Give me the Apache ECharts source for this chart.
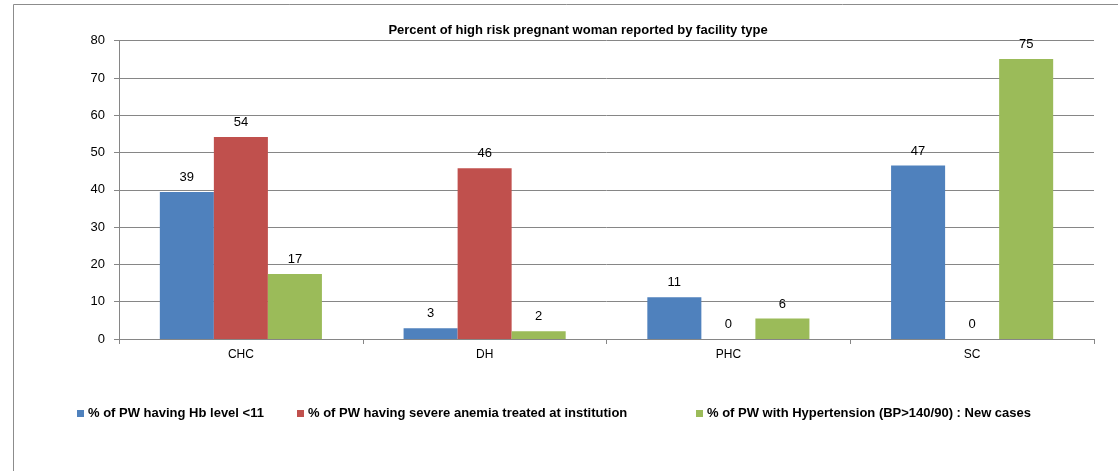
<!DOCTYPE html>
<html>
<head>
<meta charset="utf-8">
<script src="https://cdn.jsdelivr.net/npm/echarts@6/dist/echarts.min.js"></script>
<style>
  html, body { margin: 0; padding: 0; background: #fff; }
  #chart { width: 1118px; height: 471px; }
</style>
</head>
<body>
<div id="chart"></div>
<script>
// facility types
var categories = ['CHC', 'DH', 'PHC', 'SC'];
// series names
var seriesNames = [
  '% of PW having Hb level <11',
  '% of PW having severe anemia treated at institution',
  '% of PW with Hypertension (BP>140/90) : New cases'
];
// values
var hbLow = [39.4, 2.9, 11.2, 46.5];
var anemiaTreated = [54.2, 45.8, 0, 0];
var hypertension = [17.4, 2.1, 5.5, 75.1];
var yTicks = [0, 10, 20, 30, 40, 50, 60, 70, 80];

var colors = ['#4F81BD', '#C0504D', '#9BBB59'];
var font = 'Liberation Sans';
// legend entries sit where the original put them
var legendLeft = [72, 292, 691];

var myChart = echarts.init(document.getElementById('chart'), null, { renderer: 'canvas' });

function makeSeries(name, data, color) {
  return {
    name: name,
    type: 'bar',
    data: data,
    barGap: '0%',
    barCategoryGap: '33.5%',
    itemStyle: { color: color },
    label: {
      show: true,
      position: 'top',
      distance: 8,
      color: '#000',
      fontFamily: font,
      fontSize: 13,
      formatter: function (p) { return Math.round(p.value); }
    }
  };
}

function makeLegend(i) {
  return {
    left: legendLeft[i],
    top: 402,
    itemWidth: 7,
    itemHeight: 7,
    icon: 'rect',
    textStyle: { fontFamily: font, fontSize: 13, fontWeight: 'bold', color: '#000', padding: [0, 0, 0, -1] },
    data: [seriesNames[i]]
  };
}

var option = {
  animation: false,
  // outer frame of the chart
  graphic: [
    {
      type: 'rect',
      shape: { x: 13.5, y: 4.5, width: 1200, height: 600 },
      style: { fill: 'none', stroke: '#8c8c8c', lineWidth: 1 },
      silent: true
    }
  ],
  title: {
    text: 'Percent of high risk pregnant woman reported by facility type',
    left: 573,
    top: 19,
    textAlign: 'center',
    textStyle: { fontFamily: font, fontSize: 13, fontWeight: 'bold', color: '#000' }
  },
  legend: [makeLegend(0), makeLegend(1), makeLegend(2)],
  grid: { left: 119, right: 24, top: 40.7, bottom: 132 },
  xAxis: {
    type: 'category',
    data: categories,
    axisLine: { lineStyle: { color: '#868686', width: 1 } },
    axisTick: { show: true, length: 5, alignWithLabel: false, lineStyle: { color: '#868686' } },
    axisLabel: { color: '#000', fontFamily: font, fontSize: 12, margin: 10 }
  },
  yAxis: {
    type: 'value',
    min: yTicks[0],
    max: yTicks[yTicks.length - 1],
    interval: yTicks[1] - yTicks[0],
    axisLine: { show: true, lineStyle: { color: '#868686', width: 1 } },
    axisTick: { show: true, length: 5, lineStyle: { color: '#868686' } },
    splitLine: { lineStyle: { color: '#868686', width: 1 } },
    axisLabel: { color: '#000', fontFamily: font, fontSize: 13, margin: 14 }
  },
  series: [
    makeSeries(seriesNames[0], hbLow, colors[0]),
    makeSeries(seriesNames[1], anemiaTreated, colors[1]),
    makeSeries(seriesNames[2], hypertension, colors[2])
  ]
};

myChart.setOption(option);
</script>
</body>
</html>
